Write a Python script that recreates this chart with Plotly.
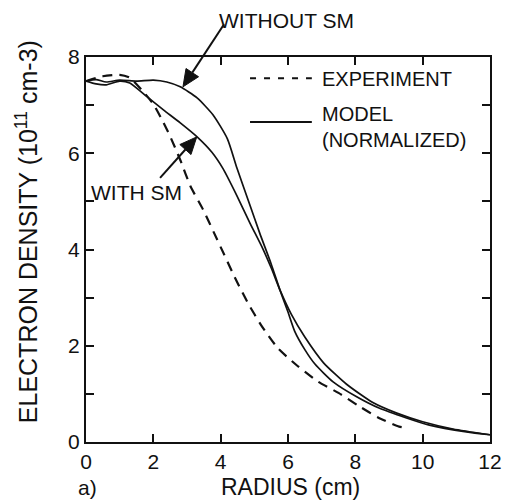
import math
import plotly.graph_objects as go

# Experiment (dashed)
r_exp = [0, 0.5, 1.0, 1.3, 1.7, 2.0, 2.3, 2.5, 2.8, 3.1, 3.5, 3.8, 4.1, 4.4, 4.8, 5.2,
         5.7, 6.25, 6.9, 7.5, 8.1, 8.7, 9.3, 9.5]
n_exp = [7.5, 7.6, 7.63, 7.57, 7.28, 7.02, 6.64, 6.35, 5.86, 5.32, 4.8, 4.35, 3.9, 3.45,
         2.9, 2.43, 1.95, 1.6, 1.25, 1.02, 0.75, 0.5, 0.32, 0.3]

# Model without SM
r_wo = [0, 0.3, 0.6, 1.0, 1.5, 2.0, 2.4, 2.8, 3.3, 3.77, 4.2, 4.48, 4.87, 5.16, 5.5,
        5.76, 6.0, 6.2, 6.5, 6.8, 7.34, 8.04, 8.72, 9.52, 10.2, 11.3, 12]
n_wo = [7.5, 7.53, 7.48, 7.52, 7.5, 7.52, 7.48, 7.38, 7.15, 6.8, 6.3, 5.7, 4.92,
        4.34, 3.7, 3.16, 2.7, 2.3, 1.92, 1.62, 1.25, 0.94, 0.70, 0.50, 0.35, 0.21, 0.15]

# Model with SM
r_w = [0, 0.3, 0.6, 1.0, 1.3, 1.8, 2.3, 2.8, 3.3, 3.74, 4.07, 4.48, 4.87, 5.25, 5.5,
       5.76, 6.1, 6.5, 7.05, 7.74, 8.52, 9.23, 10.0, 10.9, 12]
n_w = [7.5, 7.44, 7.42, 7.5, 7.46, 7.18, 6.9, 6.63, 6.34, 6.02, 5.68, 5.12, 4.55, 4.02,
       3.62, 3.16, 2.65, 2.18, 1.65, 1.2, 0.82, 0.60, 0.42, 0.27, 0.15]

x_ticks = [0, 2, 4, 6, 8, 10, 12]
y_ticks = [0, 2, 4, 6, 8]

FONT = "Liberation Sans, Arial, Helvetica, sans-serif"
BLACK = "#111111"

W, H = 509, 502
ML, MR, MT, MB = 86, 19, 57, 60
X_RANGE = [0, 12]
Y_RANGE = [0, 8]

fig = go.Figure()
fig.add_trace(go.Scatter(x=r_exp, y=n_exp, mode="lines",
                         line=dict(color=BLACK, width=2.2, dash="10px,7px",
                                   shape="spline", smoothing=0.6),
                         showlegend=False))
fig.add_trace(go.Scatter(x=r_wo, y=n_wo, mode="lines",
                         line=dict(color=BLACK, width=1.7, shape="spline", smoothing=0.6),
                         showlegend=False))
fig.add_trace(go.Scatter(x=r_w, y=n_w, mode="lines",
                         line=dict(color=BLACK, width=1.7, shape="spline", smoothing=0.6),
                         showlegend=False))

axis_common = dict(showgrid=False, zeroline=False, showline=True, linecolor=BLACK,
                   linewidth=2, mirror="ticks", ticks="inside", ticklen=8,
                   tickwidth=1.5, tickcolor=BLACK, automargin=False,
                   tickfont=dict(family=FONT, size=21, color=BLACK))

fig.update_xaxes(range=X_RANGE, tickvals=x_ticks, **axis_common)
fig.update_yaxes(range=Y_RANGE, tickvals=y_ticks,
                 minor=dict(dtick=1, ticks="inside", ticklen=8, tickwidth=1.5,
                            tickcolor=BLACK, showgrid=False),
                 **axis_common)

ann_font = dict(family=FONT, size=20, color=BLACK)

annotations = [
    dict(text="ELECTRON DENSITY (10<sup>11</sup> cm-3)", xref="paper", yref="paper",
         x=-0.146, y=0.545, textangle=-90, showarrow=False,
         font=dict(family=FONT, size=25, color=BLACK), xanchor="center", yanchor="middle"),
    dict(text="RADIUS (cm)", xref="paper", yref="paper", x=0.507, y=-0.117,
         showarrow=False, font=dict(family=FONT, size=23, color=BLACK),
         xanchor="center", yanchor="middle"),
    dict(text="a)", xref="paper", yref="paper", x=0.0025, y=-0.119, showarrow=False,
         font=dict(family=FONT, size=21, color=BLACK), xanchor="center", yanchor="middle"),
    dict(text="EXPERIMENT", xref="paper", yref="paper", x=0.579, y=0.942,
         showarrow=False, font=ann_font, xanchor="left", yanchor="middle"),
    dict(text="MODEL<br>(NORMALIZED)", xref="paper", yref="paper", x=0.579, y=0.885,
         showarrow=False, font=ann_font, xanchor="left", yanchor="top", align="left"),
    dict(text="WITHOUT SM", xref="paper", yref="paper", x=0.4975, y=1.095,
         showarrow=False, font=dict(family=FONT, size=21, color=BLACK),
         xanchor="center", yanchor="middle"),
    dict(text="WITH SM", xref="paper", yref="paper", x=0.124, y=0.648,
         showarrow=False, font=dict(family=FONT, size=21, color=BLACK),
         xanchor="center", yanchor="middle"),
]

PW = W - ML - MR
PH = H - MT - MB


def to_paper(pt):
    return ((pt[0] - X_RANGE[0]) / (X_RANGE[1] - X_RANGE[0]),
            (pt[1] - Y_RANGE[0]) / (Y_RANGE[1] - Y_RANGE[0]))


def arrow_shapes(tail, tip, head_len=17, head_half=7.5):
    t0 = to_paper(tail)
    t1 = to_paper(tip)
    dxp = (t1[0] - t0[0]) * PW
    dyp = (t1[1] - t0[1]) * PH
    L = math.hypot(dxp, dyp)
    ux, uy = dxp / L, dyp / L
    bx, by = -ux * head_len, -uy * head_len
    qx, qy = -uy * head_half, ux * head_half
    base = (t1[0] + bx / PW, t1[1] + by / PH)
    c1 = (base[0] + qx / PW, base[1] + qy / PH)
    c2 = (base[0] - qx / PW, base[1] - qy / PH)
    path = f"M {t1[0]},{t1[1]} L {c1[0]},{c1[1]} L {c2[0]},{c2[1]} Z"
    return [
        dict(type="line", xref="paper", yref="paper", x0=t0[0], y0=t0[1],
             x1=base[0], y1=base[1], line=dict(color=BLACK, width=2)),
        dict(type="path", xref="paper", yref="paper", path=path, fillcolor=BLACK,
             line=dict(color=BLACK, width=1)),
    ]


shapes = [
    dict(type="line", xref="paper", yref="paper", x0=0.406, x1=0.559, y0=0.945, y1=0.945,
         line=dict(color=BLACK, width=2, dash="6px,8px")),
    dict(type="line", xref="paper", yref="paper", x0=0.406, x1=0.559, y0=0.831, y1=0.831,
         line=dict(color=BLACK, width=2)),
]
shapes += arrow_shapes((4.1, 8.68), (2.88, 7.38))
shapes += arrow_shapes((2.2, 5.49), (3.29, 6.34))

fig.update_layout(
    width=W, height=H,
    margin=dict(l=ML, r=MR, t=MT, b=MB),
    paper_bgcolor="white", plot_bgcolor="white",
    annotations=annotations, shapes=shapes,
    showlegend=False,
)

fig.write_html("out.html")
